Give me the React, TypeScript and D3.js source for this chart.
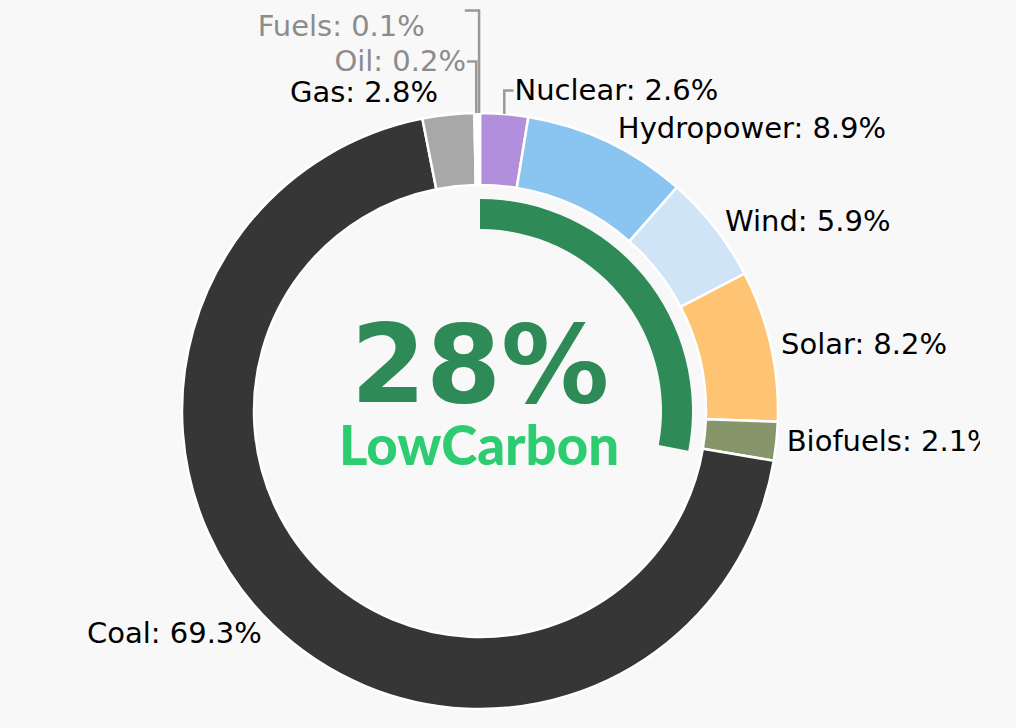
import React from "react";
import * as d3 from "d3";

const categories = ["Nuclear", "Hydropower", "Wind", "Solar", "Biofuels", "Coal", "Gas", "Oil", "Fuels"];
const shares = [2.6, 8.9, 5.9, 8.2, 2.1, 69.3, 2.8, 0.2, 0.1];
const sliceColors = ["#b18fdc", "#8ac4f1", "#cfe4f6", "#ffc374", "#87956a", "#363636", "#a8a8a8", "#ffffff", "#ffffff"];
const labelColors = ["#000", "#000", "#000", "#000", "#000", "#000", "#000", "#8c8c8c", "#8c8c8c"];
const lowCarbonShare = 28;
const lowCarbonLabel = "LowCarbon";

// layout-only nudges for labels that were moved to avoid collisions
const labelNudge: Record<string, { dy: number; dx?: number; connY?: number; connDx?: number; conn?: boolean }> = {
  Nuclear: { dy: -7, conn: true },
  Gas: { dy: -6, conn: false },
  Oil: { dy: -35, conn: true },
  Fuels: { dy: -70, dx: -44, connY: -16, connDx: -5, conn: true },
};

const W = 1016;
const H = 728;
const cx = 480;
const cy = 411;
const R = 298;
const r0 = 226;
const FS = 29;
const boxH = 33;

export default function App() {
  const pie = d3.pie<number>().sort(null).value((d) => d).startAngle(0).endAngle(2 * Math.PI);
  const arcs = pie(shares);
  const arcGen = d3.arc<d3.PieArcDatum<number>>().innerRadius(r0).outerRadius(R);
  const greenArc = d3.arc()({
    innerRadius: 182,
    outerRadius: 212,
    startAngle: 0,
    endAngle: (lowCarbonShare / 100) * 2 * Math.PI,
  } as any) as string;

  const labels = arcs.map((a, i) => {
    const th = (a.startAngle + a.endAngle) / 2;
    const x = Math.sin(th);
    const y = -Math.cos(th);
    const px = cx + R * x;
    const py = cy + R * y;
    const dy = (y < 0 ? -1 : 1) * (boxH / 2);
    const hpad = boxH / 4 + 2;
    let centerY = py + dy / (1 + (x * x) / (y * y));
    let edgeX = x >= 0 ? px + hpad : px - hpad;
    const nudge = labelNudge[categories[i]];
    let connPath: string | null = null;
    if (nudge) {
      centerY += nudge.dy;
      const connEnd = edgeX - (x >= 0 ? 1 : -1) + (nudge.connDx ?? 0);
      const connYv = centerY + (nudge.connY ?? 0);
      edgeX += nudge.dx ?? 0;
      if (nudge.conn) connPath = `M${px},${py}V${connYv}H${connEnd}`;
    }
    return {
      name: categories[i],
      text: `${categories[i]}: ${shares[i]}%`,
      x: edgeX,
      y: centerY + 0.33 * FS,
      anchor: x >= 0 ? "start" : "end",
      color: labelColors[i],
      connPath,
    };
  });

  return (
    <svg
      width={W}
      height={H}
      style={{ position: "fixed", left: 0, top: 0, background: "#f8f8f8" }}
    >
      <defs>
        <clipPath id="clip">
          <rect x={0} y={0} width={980} height={H} />
        </clipPath>
      </defs>
      <rect x={0} y={0} width={W} height={H} fill="#f8f8f8" />
      <g transform={`translate(${cx},${cy})`}>
        {arcs.map((a, i) => (
          <path key={i} d={arcGen(a) as string} fill={sliceColors[i]} stroke="#ffffff" strokeWidth={2.5} />
        ))}
        <path d={greenArc} fill="#2e8b57" />
      </g>
      <g clipPath="url(#clip)">
        {labels.map((l, i) =>
          l.connPath ? (
            <path key={"c" + i} d={l.connPath} fill="none" stroke="#999999" strokeWidth={2.5} />
          ) : null
        )}
        {labels.map((l, i) => (
          <text
            key={"t" + i}
            x={l.x}
            y={l.y}
            textAnchor={l.anchor}
            fontFamily="DejaVu Sans, Verdana, sans-serif"
            fontSize={FS}
            fill={l.color}
          >
            {l.text}
          </text>
        ))}
      </g>
      <text
        x={cx}
        y={402}
        textAnchor="middle"
        fontFamily="DejaVu Sans, Verdana, sans-serif"
        fontWeight="bold"
        fontSize={108}
        fill="#2e8b57"
      >
        {`${lowCarbonShare}%`}
      </text>
      <text
        x={cx - 1}
        y={465}
        textAnchor="middle"
        fontFamily="Lato, sans-serif"
        fontWeight={900}
        fontSize={54.5}
        fill="#2ecc71"
      >
        {lowCarbonLabel}
      </text>
    </svg>
  );
}
